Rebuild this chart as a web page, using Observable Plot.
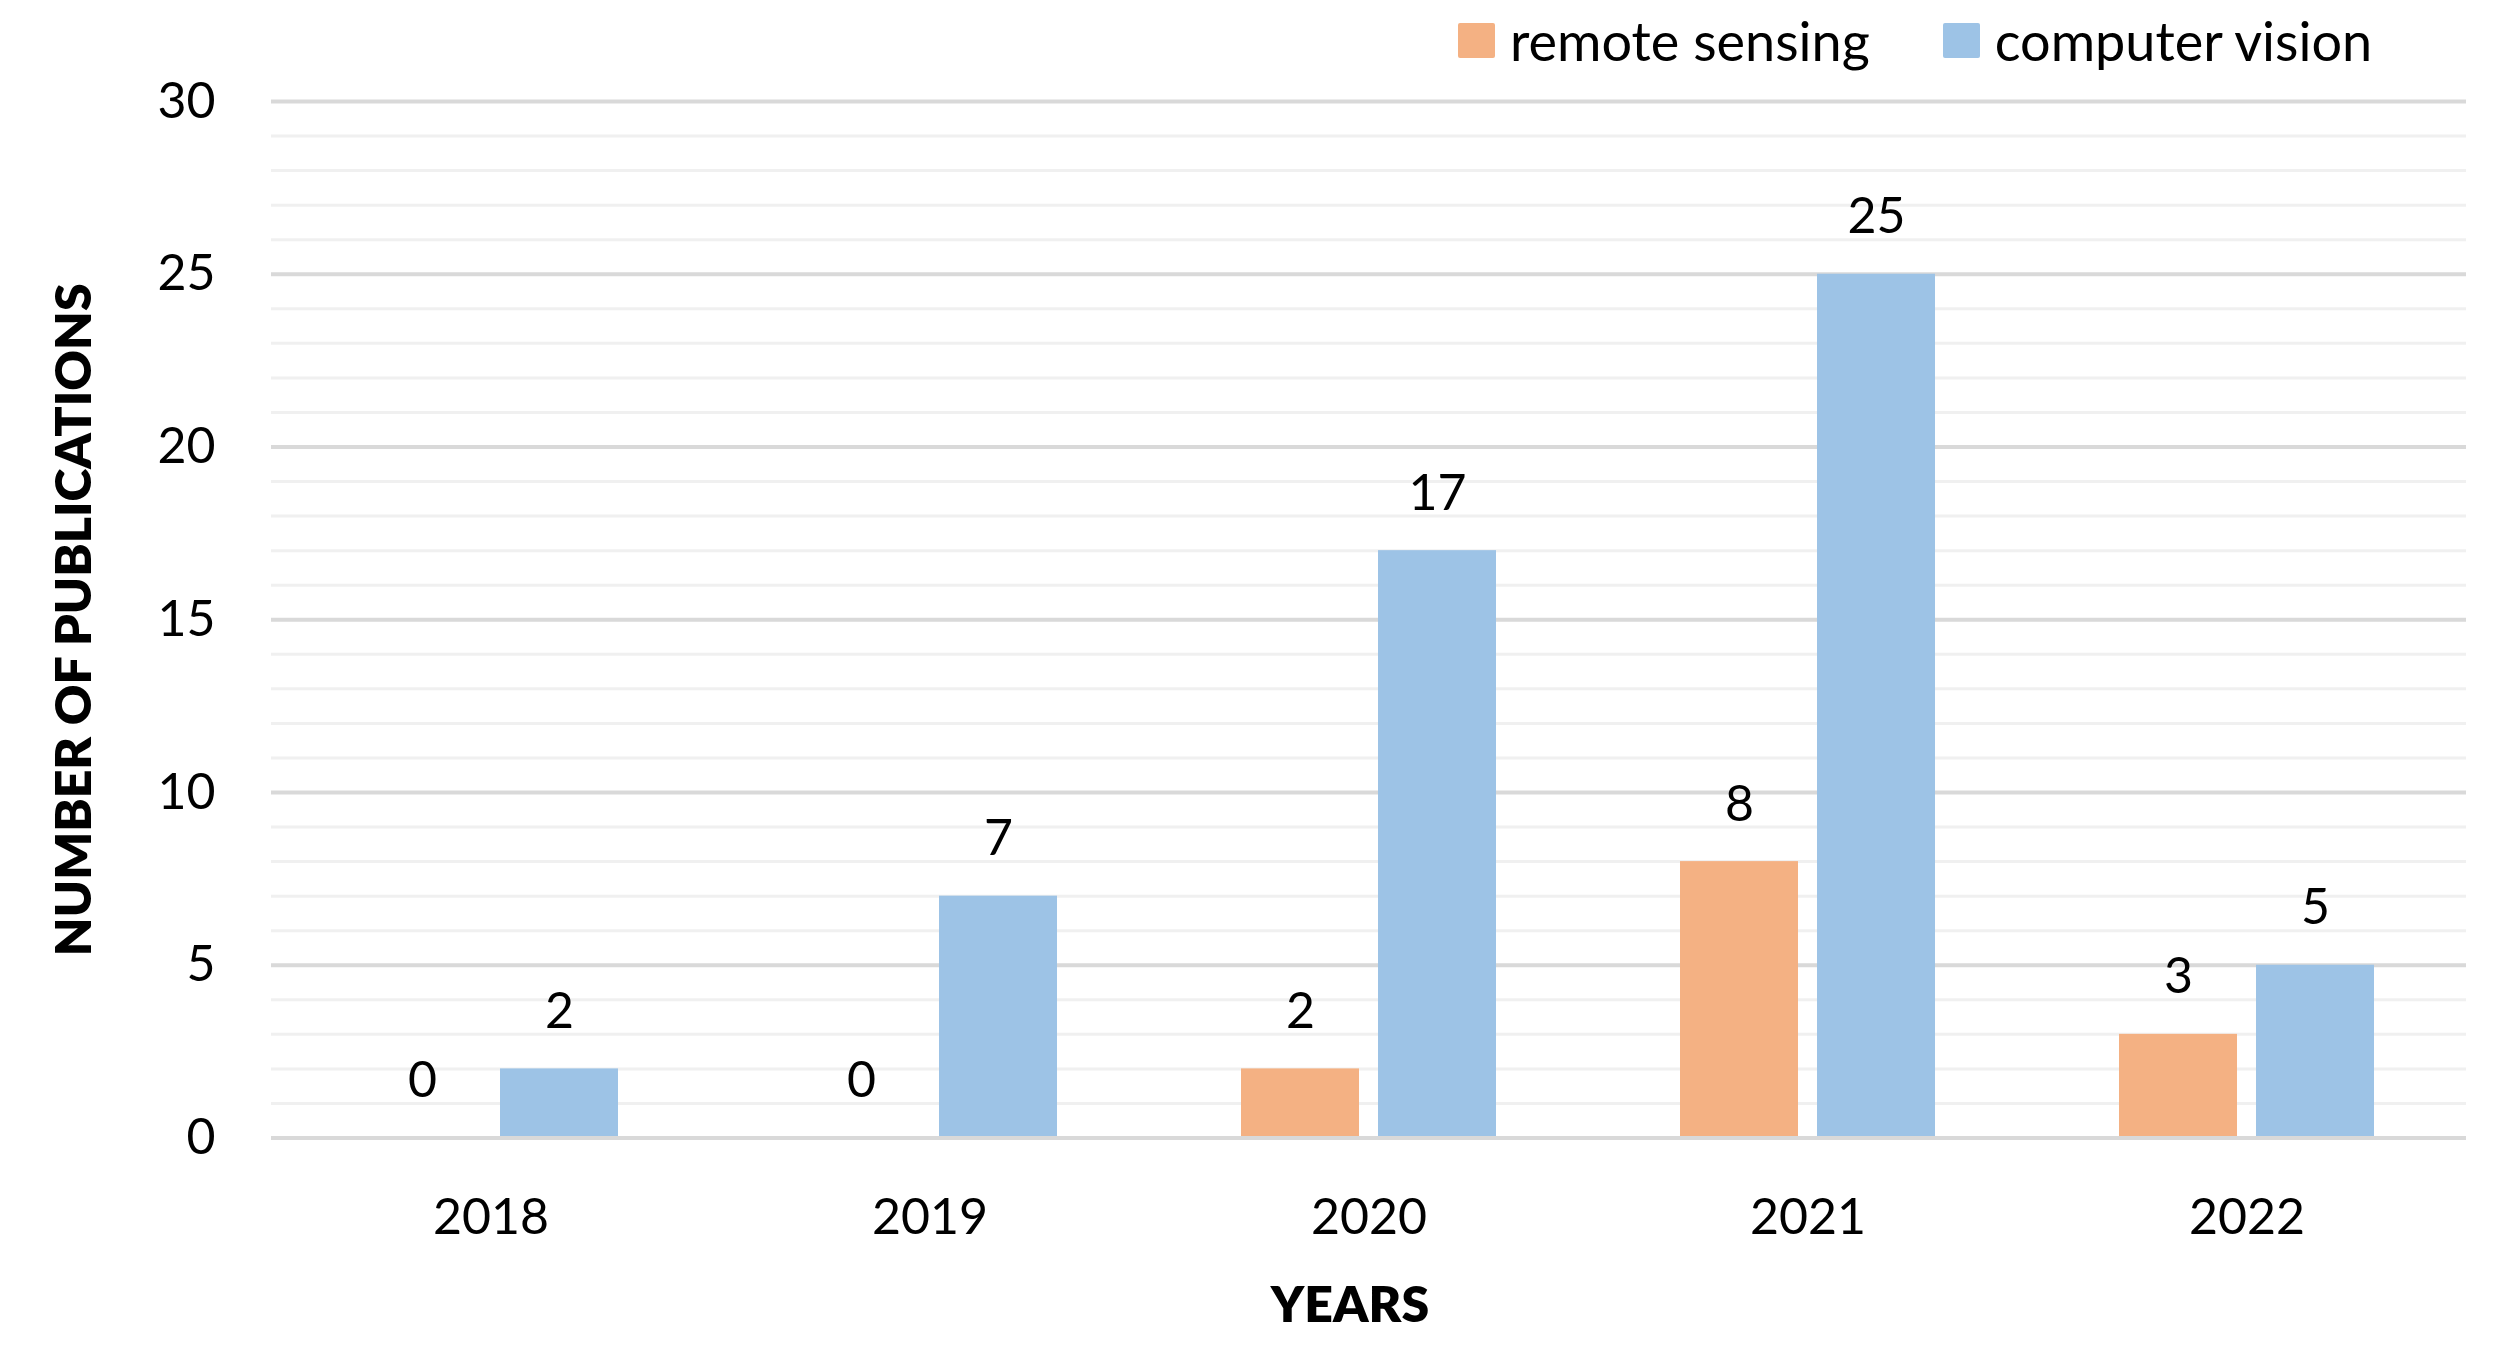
<!DOCTYPE html>
<html>
<head>
<meta charset="utf-8">
<script src="https://cdn.jsdelivr.net/npm/d3@7"></script>
<script src="https://cdn.jsdelivr.net/npm/@observablehq/plot@0.6"></script>
<style>
  body { margin: 0; background: #fff; font-family: Lato, "Open Sans", sans-serif; }
  #legend { height: 80px; display: flex; align-items: center; padding-left: 1458px; box-sizing: border-box; font-size: 54px; color: #000; }
  #legend .item { display: flex; align-items: center; margin-right: 73px; }
  #legend .sw { width: 37px; height: 35px; margin-right: 15px; border-radius: 2px; }
  svg g[aria-label="y-axis label"] text { font-weight: 800; font-size: 50px; }
  svg g[aria-label="fx-axis label"] text { font-weight: 800; font-size: 50px; }
  svg g[aria-label="fx-axis label"] { translate: -19px 0px; }
</style>
</head>
<body>
<div id="legend"></div>
<div id="chart"></div>
<script>
const years = ["2018", "2019", "2020", "2021", "2022"];
const series = ["remote sensing", "computer vision"];
const remoteSensing = [0, 0, 2, 8, 3];
const computerVision = [2, 7, 17, 25, 5];
const colors = ["#F4B183", "#9DC3E6"];
const yTicks = [0, 5, 10, 15, 20, 25, 30];
const minorTicks = d3.range(0, 31).filter(v => v % 5 !== 0);

const rows = [];
years.forEach((yr, i) => {
  rows.push({year: yr, series: series[0], value: remoteSensing[i]});
  rows.push({year: yr, series: series[1], value: computerVision[i]});
});

// legend
const legend = document.getElementById("legend");
series.forEach((s, i) => {
  const item = document.createElement("div");
  item.className = "item";
  const sw = document.createElement("div");
  sw.className = "sw";
  sw.style.background = colors[i];
  const lab = document.createElement("span");
  lab.textContent = s;
  item.appendChild(sw);
  item.appendChild(lab);
  legend.appendChild(item);
});

const chart = Plot.plot({
  width: 2510,
  height: 1265,
  marginTop: 21,
  marginBottom: 207.5,
  marginLeft: 269,
  marginRight: 43,
  style: {fontFamily: "Lato, 'Open Sans', sans-serif", fontSize: "50px", color: "#000", background: "#fff", overflow: "visible"},
  fx: {domain: years, padding: 0},
  x: {domain: series, paddingInner: 0.138, paddingOuter: 0.662, axis: null},
  y: {domain: [0, 30], axis: null},
  color: {domain: series, range: colors},
  marks: [
    Plot.ruleY(minorTicks, {stroke: "#f0f0f0", strokeWidth: 3}),
    Plot.ruleY(yTicks.filter(v => v > 0), {stroke: "#d9d9d9", strokeWidth: 4}),
    Plot.barY(rows, {fx: "year", x: "series", y: "value", fill: "series"}),
    Plot.ruleY([0], {stroke: "#d9d9d9", strokeWidth: 4}),
    Plot.text(rows, {fx: "year", x: "series", y: "value", text: d => String(d.value), dy: -41, lineAnchor: "bottom", fontSize: 50, fill: "#000"}),
    Plot.axisY({ticks: yTicks, tickSize: 0, tickPadding: 56, fontSize: 50, label: "NUMBER OF PUBLICATIONS", labelArrow: "none", labelAnchor: "center", labelOffset: 216}),
    Plot.axisFx({anchor: "bottom", tickSize: 0, tickPadding: 60, fontSize: 50, label: "YEARS", labelArrow: "none", labelAnchor: "center", labelOffset: 184})
  ]
});
document.getElementById("chart").appendChild(chart);
</script>
</body>
</html>
